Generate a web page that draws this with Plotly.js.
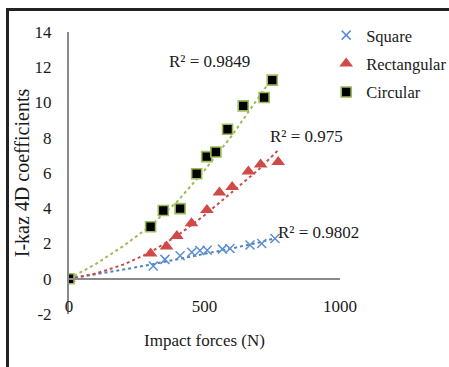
<!DOCTYPE html>
<html>
<head>
<meta charset="utf-8">
<script src="https://cdn.plot.ly/plotly-3.0.1.min.js"></script>
<style>
  html, body { margin: 0; padding: 0; background: #fff; }
  #wrap { position: relative; width: 449px; height: 367px; overflow: hidden; }
  #chart { position: absolute; left: 0; top: 0; width: 449px; height: 367px; }
  #frame { position: absolute; left: 6px; top: 8px; width: 460px; height: 380px;
           border-top: 3px solid #222; border-left: 3px solid #222; pointer-events: none; }
</style>
</head>
<body>
<div id="wrap"><div id="chart"></div><div id="frame"></div></div>
<script>
// ---- data ----
const squareX = [0, 311, 354, 410, 453, 483, 510, 566, 594, 668, 711, 760];
const squareY = [0, 0.72, 1.10, 1.30, 1.50, 1.60, 1.62, 1.68, 1.72, 1.92, 2.00, 2.28];

const rectX = [0, 301, 360, 398, 452, 509, 555, 602, 662, 707, 772];
const rectY = [0, 1.43, 1.83, 2.42, 3.15, 3.90, 4.90, 5.20, 6.08, 6.48, 6.62];

const circX = [0, 301, 348, 410, 471, 508, 542, 585, 643, 720, 750];
const circY = [0, 2.95, 3.87, 3.98, 5.96, 6.93, 7.19, 8.48, 9.81, 10.28, 11.27];

// trendlines
const squareTrendX = [0, 100, 200, 300, 400, 500, 600, 700, 760];
const squareTrendY = [0, 0.25, 0.52, 0.80, 1.10, 1.40, 1.72, 2.05, 2.30];
const rectTrendX = [0, 100, 200, 300, 400, 500, 600, 700, 772];
const rectTrendY = [0, 0.30, 0.80, 1.50, 2.45, 3.60, 4.90, 6.20, 7.30];
const circTrendX = [0, 100, 200, 300, 400, 500, 600, 700, 750];
const circTrendY = [0, 0.85, 1.85, 2.99, 4.40, 6.15, 8.10, 10.30, 11.40];

const seriesNames = ['Square', 'Rectangular', 'Circular'];
const r2Labels = ['R² = 0.9802', 'R² = 0.975', 'R² = 0.9849'];
const r2X = [919, 875, 520];
const r2Y = [2.63, 8.06, 12.3];

const xTicks = [0, 500, 1000];
const xTickText = ['0', '500', '1000'];
const yTicks = [-2, 0, 2, 4, 6, 8, 10, 12, 14];
const yTickText = ['-2', '0', '2', '4', '6', '8', '10', '12', '14'];

const cBlue = '#4f81bd', cBlueM = '#5b8fd0';
const cRed = '#c0504d', cRedM = '#d04a48';
const cGreen = '#9bbb59';
const serif = 'Liberation Serif';

const traces = [
  { x: squareTrendX, y: squareTrendY, mode: 'lines', showlegend: false, hoverinfo: 'skip',
    line: { color: cBlue, width: 2, dash: 'dot' } },
  { x: rectTrendX, y: rectTrendY, mode: 'lines', showlegend: false, hoverinfo: 'skip',
    line: { color: cRed, width: 2, dash: 'dot' } },
  { x: circTrendX, y: circTrendY, mode: 'lines', showlegend: false, hoverinfo: 'skip',
    line: { color: cGreen, width: 2, dash: 'dot' } },
  { x: squareX, y: squareY, mode: 'markers', name: seriesNames[0], legendgroup: 'a',
    marker: { symbol: 'x-thin', size: 9, color: cBlueM, line: { color: cBlueM, width: 1.5 } } },
  { x: rectX, y: rectY, mode: 'markers', name: seriesNames[1], legendgroup: 'b',
    marker: { symbol: 'triangle-up', size: 12, color: cRedM, line: { width: 0 } } },
  { x: circX, y: circY, mode: 'markers', name: seriesNames[2], legendgroup: 'c',
    marker: { symbol: 'square', size: 10, color: '#000', line: { color: cGreen, width: 1.6 } } }
];

const annotations = r2Labels.map((t, i) => ({
  text: t, x: r2X[i], y: r2Y[i], xref: 'x', yref: 'y', showarrow: false,
  font: { family: serif, size: 17, color: '#1a1a1a' }
}));

const layout = {
  width: 449, height: 367,
  margin: { l: 69, r: 109, t: 32, b: 53, autoexpand: false },
  paper_bgcolor: '#fff', plot_bgcolor: '#fff',
  font: { family: serif, size: 17, color: '#1a1a1a' },
  showlegend: true,
  legend: { x: 0.949, y: 1.05, xanchor: 'left', yanchor: 'top',
            font: { family: serif, size: 16.5, color: '#1a1a1a' },
            bgcolor: 'rgba(0,0,0,0)', tracegroupgap: 4, itemwidth: 30 },
  xaxis: {
    range: [0, 1000], anchor: 'free', position: 0.125, automargin: false,
    tickvals: xTicks, ticktext: xTickText, showgrid: false, zeroline: false,
    showline: true, linecolor: '#8a8a8a', linewidth: 2, ticks: '',
    ticklabelstandoff: 12,
    tickfont: { family: serif, size: 17, color: '#1a1a1a' },
    title: { text: 'Impact forces (N)', font: { family: serif, size: 17, color: '#1a1a1a' }, standoff: 18 }
  },
  yaxis: {
    range: [-2, 14], tickvals: yTicks, ticktext: yTickText, automargin: false,
    showgrid: false, zeroline: false, showline: true, linecolor: '#8a8a8a', linewidth: 2,
    ticks: '', ticklabelstandoff: 12,
    tickfont: { family: serif, size: 17, color: '#1a1a1a' },
    title: { text: 'I-kaz 4D coefficients', font: { family: serif, size: 20, color: '#1a1a1a' }, standoff: 0 }
  },
  annotations: annotations
};

Plotly.newPlot('chart', traces, layout, { displayModeBar: false, staticPlot: true });
</script>
</body>
</html>
